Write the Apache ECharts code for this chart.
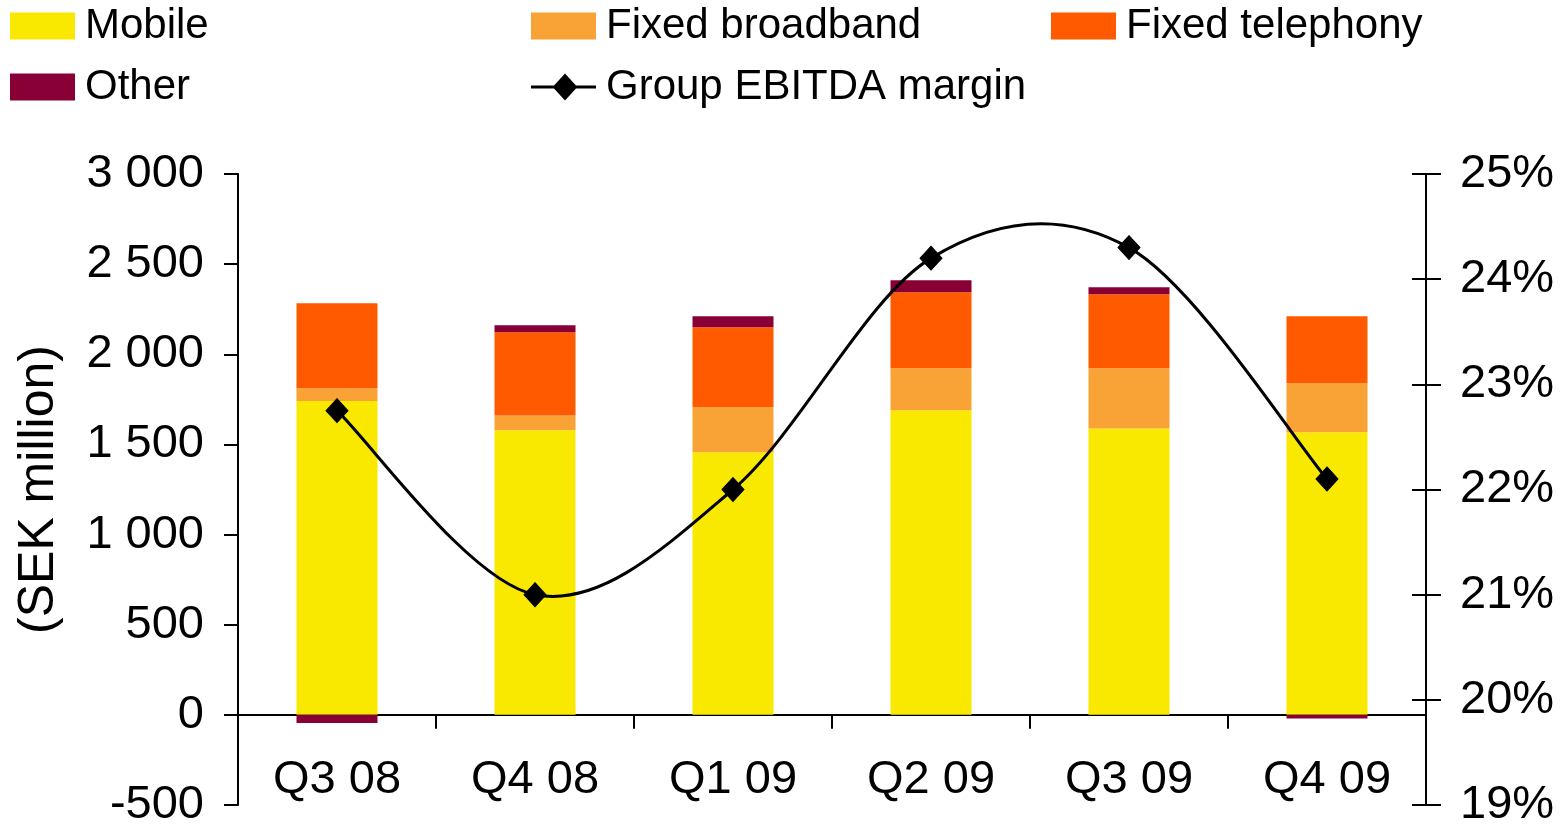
<!DOCTYPE html>
<html>
<head>
<meta charset="utf-8">
<title>Revenue by segment and Group EBITDA margin</title>
<script src="https://cdn.jsdelivr.net/npm/echarts@6/dist/echarts.min.js"></script>
<style>
  html, body { margin: 0; padding: 0; background: #fff; }
  #chart { width: 1564px; height: 827px; }
</style>
</head>
<body>
<div id="chart"></div>
<script>
// Quarters
const categories = ['Q3 08', 'Q4 08', 'Q1 09', 'Q2 09', 'Q3 09', 'Q4 09'];

// Segment values, SEK million
const mobile = [1741, 1578, 1456, 1689, 1589, 1567];
const fixedBroadband = [70, 83, 250, 233, 333, 272];
const fixedTelephony = [472, 461, 444, 422, 411, 372];
const other = [-45, 39, 61, 67, 39, -20];

// Group EBITDA margin, %
const ebitdaMargin = [22.75, 21.0, 22.0, 24.2, 24.3, 22.1];

const FONT = '"Liberation Sans", Arial, sans-serif';
const AXIS_TEXT = { color: '#000', fontFamily: FONT, fontSize: 47 };
const LEGEND_TEXT = { color: '#000', fontFamily: FONT, fontSize: 42, padding: [0, 0, 0, 5] };

function thousands(v) {
  const s = String(Math.abs(v)).replace(/\B(?=(\d{3})+(?!\d))/g, ' ');
  return (v < 0 ? '-' : '') + s;
}

// Line-with-diamond legend marker
const MARGIN_ICON = 'path://M0,12 L23,12 L34,0 L45,12 L65,12 L65,15 L45,15 L34,27 L23,15 L0,15 Z';

const legendBase = {
  orient: 'vertical',
  top: 5,
  padding: 0,
  itemWidth: 65,
  itemHeight: 27,
  itemGap: 19,
  textStyle: LEGEND_TEXT,
  selectedMode: false
};

// Smooth curve through the margin points (cardinal spline, one bezier per segment)
function renderMarginCurve(params, api) {
  const i = params.dataIndex;
  const n = ebitdaMargin.length;
  if (i >= n - 1) return null;
  const p = (k) => {
    const j = Math.max(0, Math.min(n - 1, k));
    return api.coord([j, ebitdaMargin[j]]);
  };
  const p0 = p(i - 1), p1 = p(i), p2 = p(i + 1), p3 = p(i + 2);
  return {
    type: 'bezierCurve',
    shape: {
      x1: p1[0], y1: p1[1],
      x2: p2[0], y2: p2[1],
      cpx1: p1[0] + (p2[0] - p0[0]) / 6,
      cpy1: p1[1] + (p2[1] - p0[1]) / 6,
      cpx2: p2[0] - (p3[0] - p1[0]) / 6,
      cpy2: p2[1] - (p3[1] - p1[1]) / 6
    },
    style: { stroke: '#000', lineWidth: 3, fill: null },
    silent: true
  };
}

const chart = echarts.init(document.getElementById('chart'), null, { renderer: 'canvas' });

chart.setOption({
  backgroundColor: '#fff',
  animation: false,
  legend: [
    Object.assign({}, legendBase, { left: 10, data: [
      { name: 'Mobile', icon: 'rect' },
      { name: 'Other', icon: 'rect' }
    ] }),
    Object.assign({}, legendBase, { left: 531, data: [
      { name: 'Fixed broadband', icon: 'rect' },
      { name: 'Group EBITDA margin', icon: MARGIN_ICON }
    ] }),
    Object.assign({}, legendBase, { left: 1051, data: [
      { name: 'Fixed telephony', icon: 'rect' }
    ] })
  ],
  grid: { left: 238, right: 138, top: 174, bottom: 22, containLabel: false, outerBoundsMode: 'none' },
  xAxis: [
    {
      // zero line with category ticks
      type: 'category',
      data: categories,
      boundaryGap: true,
      axisLine: { onZero: true, lineStyle: { color: '#000', width: 2 } },
      axisTick: { show: true, interval: 0, length: 14, lineStyle: { color: '#000', width: 2 } },
      axisLabel: { show: false },
      splitLine: { show: false }
    },
    {
      // quarter labels along the bottom of the plot
      type: 'category',
      data: categories,
      boundaryGap: true,
      position: 'bottom',
      axisLine: { show: false, onZero: false },
      axisTick: { show: false },
      axisLabel: Object.assign({}, AXIS_TEXT, { inside: true, margin: 25, verticalAlign: 'middle', interval: 0 }),
      splitLine: { show: false }
    }
  ],
  yAxis: [
    {
      type: 'value',
      min: -500, max: 3000, interval: 500,
      position: 'left',
      name: '(SEK million)',
      nameLocation: 'middle',
      nameGap: 174,
      nameRotate: 90,
      nameTextStyle: { color: '#000', fontFamily: FONT, fontSize: 50 },
      axisLine: { show: true, lineStyle: { color: '#000', width: 2 } },
      axisTick: { show: true, length: 14, lineStyle: { color: '#000', width: 2 } },
      axisLabel: Object.assign({}, AXIS_TEXT, { margin: 34, formatter: thousands }),
      splitLine: { show: false }
    },
    {
      type: 'value',
      min: 19, max: 25, interval: 1,
      position: 'right',
      axisLine: { show: true, lineStyle: { color: '#000', width: 2 } },
      axisTick: { show: true, length: 15, lineStyle: { color: '#000', width: 2 } },
      axisLabel: Object.assign({}, AXIS_TEXT, { margin: 34, formatter: '{value}%' }),
      splitLine: { show: false }
    },
    {
      // inward half of the crossing ticks on the margin axis
      type: 'value',
      min: 19, max: 25, interval: 1,
      position: 'right',
      axisLine: { show: false },
      axisTick: { show: true, inside: true, length: 14, lineStyle: { color: '#000', width: 2 } },
      axisLabel: { show: false },
      splitLine: { show: false }
    }
  ],
  series: [
    { name: 'Mobile', type: 'bar', stack: 'rev', barWidth: 81, data: mobile, itemStyle: { color: '#F9E800' } },
    { name: 'Fixed broadband', type: 'bar', stack: 'rev', barWidth: 81, data: fixedBroadband, itemStyle: { color: '#F9A235' } },
    { name: 'Fixed telephony', type: 'bar', stack: 'rev', barWidth: 81, data: fixedTelephony, itemStyle: { color: '#FF5A00' } },
    { name: 'Other', type: 'bar', stack: 'rev', barWidth: 81, data: other, itemStyle: { color: '#880036' } },
    {
      name: 'margin curve',
      type: 'custom',
      yAxisIndex: 1,
      data: ebitdaMargin.map((v, i) => [i, v]),
      renderItem: renderMarginCurve,
      z: 4
    },
    {
      name: 'Group EBITDA margin',
      type: 'line',
      yAxisIndex: 1,
      data: ebitdaMargin,
      symbol: 'diamond',
      symbolSize: [22, 24],
      lineStyle: { width: 0, opacity: 0 },
      itemStyle: { color: '#000', borderColor: '#000' },
      z: 5
    }
  ]
});
</script>
</body>
</html>
